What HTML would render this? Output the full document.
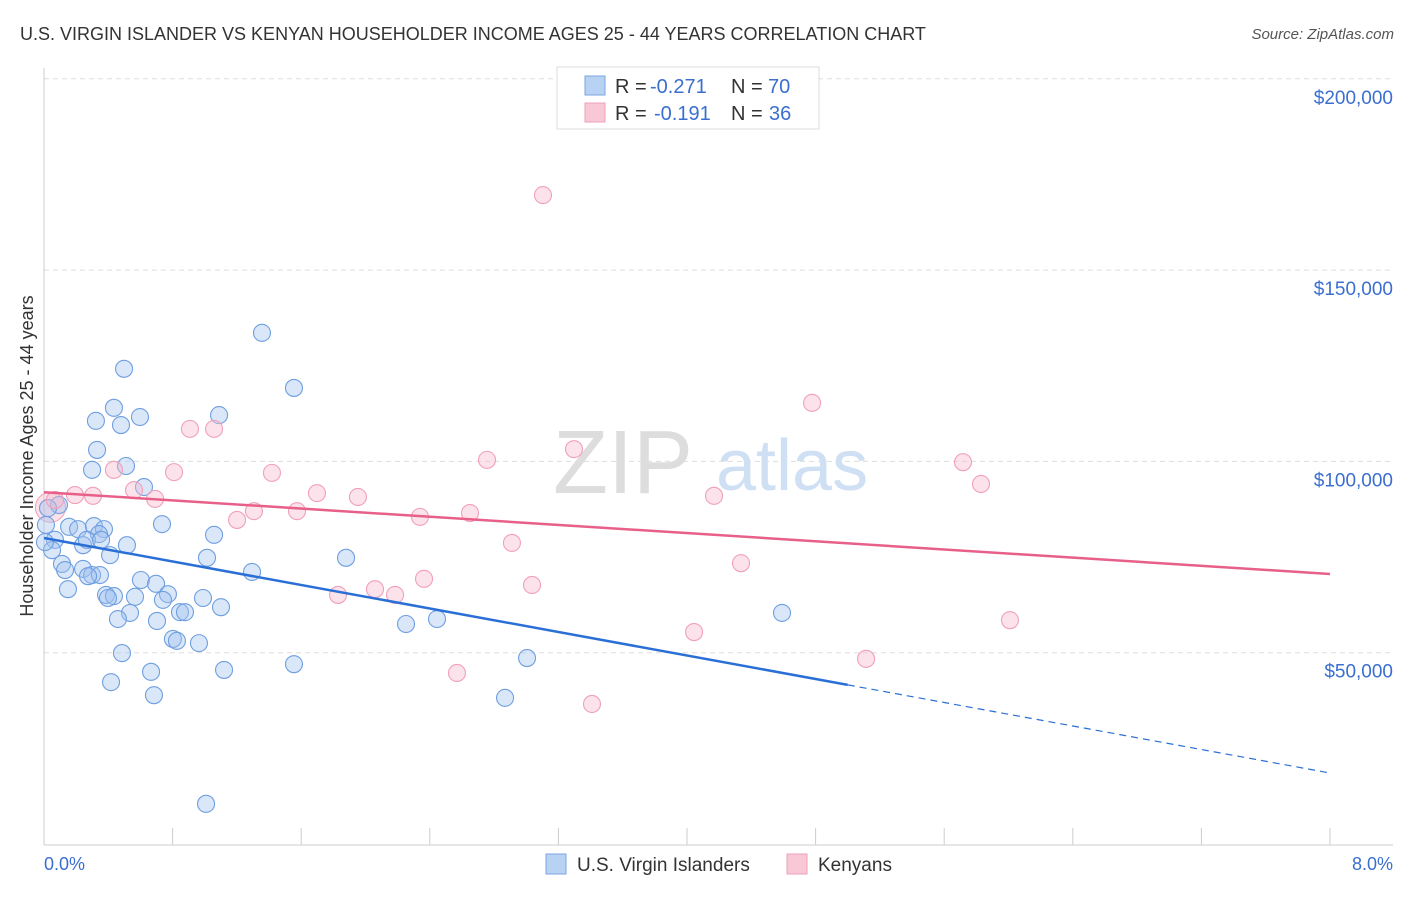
<!DOCTYPE html>
<html><head><meta charset="utf-8"><style>
body{margin:0;background:#fff;font-family:"Liberation Sans",sans-serif}
svg text{font-family:"Liberation Sans",sans-serif}
</style></head><body>
<svg width="1406" height="892" xmlns="http://www.w3.org/2000/svg">
<text x="20" y="40" font-size="18" fill="#333">U.S. VIRGIN ISLANDER VS KENYAN HOUSEHOLDER INCOME AGES 25 - 44 YEARS CORRELATION CHART</text>
<text x="1394" y="39" font-size="15" fill="#555" text-anchor="end" font-style="italic">Source: ZipAtlas.com</text>
<g id="grid"></g>
<line x1="44" y1="68" x2="44" y2="845" stroke="#ccc"/>
<line x1="44" y1="845" x2="1393" y2="845" stroke="#ccc"/>
<g id="xticks"></g>
<g id="ylabels"></g>
<text x="44" y="870" font-size="18" fill="#3a6fd0">0.0%</text>
<text x="1393" y="870" font-size="18" fill="#3a6fd0" text-anchor="end">8.0%</text>
<text transform="translate(33,456) rotate(-90)" font-size="18" fill="#333" text-anchor="middle">Householder Income Ages 25 - 44 years</text>
<g><text x="553" y="493" font-size="90" fill="#ddd" font-family="Liberation Serif,serif">ZIP</text><text x="716" y="490" font-size="72" fill="#cfe0f4">atlas</text></g>
<g id="pts"></g>
<g id="lines"></g>
<g>
<rect x="557" y="67" width="262" height="62" fill="#fff" stroke="#ddd"/>
<rect x="585" y="76" width="20" height="19" fill="#b8d2f4" stroke="#7aa6e0"/>
<rect x="585" y="103" width="20" height="19" fill="#f8c8d6" stroke="#f0a0b8"/>
<text y="93" font-size="20" fill="#333"><tspan x="615">R =</tspan><tspan x="650" fill="#3a6fd0">-0.271</tspan><tspan x="731">N =</tspan><tspan x="768" fill="#3a6fd0">70</tspan></text>
<text y="120" font-size="20" fill="#333"><tspan x="615">R =</tspan><tspan x="654" fill="#3a6fd0">-0.191</tspan><tspan x="731">N =</tspan><tspan x="769" fill="#3a6fd0">36</tspan></text>
</g>
<g>
<rect x="546" y="854" width="20" height="20" fill="#b8d2f4" stroke="#7aa6e0"/>
<text x="577" y="871" font-size="19" fill="#333">U.S. Virgin Islanders</text>
<rect x="787" y="854" width="20" height="20" fill="#f8c8d6" stroke="#f0a0b8"/>
<text x="818" y="871" font-size="19" fill="#333">Kenyans</text>
</g>
</svg>
<script>
const yTicks=[50000,100000,150000,200000];
const yTickLabels=["$50,000","$100,000","$150,000","$200,000"];
const xTicks=[0,0.8,1.6,2.4,3.2,4.0,4.8,5.6,6.4,7.2,8.0];
const blueX=[1.356,0.498,1.555,0.435,0.597,1.089,0.323,0.479,0.330,0.510,0.299,0.622,0.093,0.025,0.734,1.058,0.156,0.212,0.311,0.373,0.342,0.243,0.267,0.355,0.516,0.068,0.050,0.411,1.014,1.879,0.112,0.243,0.299,0.348,0.274,1.294,0.603,0.697,0.771,0.386,0.435,0.398,0.740,1.101,0.989,0.846,0.877,0.535,0.460,0.703,2.252,2.445,4.591,0.802,0.827,0.964,0.485,1.555,3.005,0.666,1.120,0.417,0.684,2.868,1.008,0.149,0.006,0.131,0.566,0.012];
const blueY=[133.6,124.2,119.2,114.0,111.6,112.1,110.6,109.5,103.0,98.8,97.8,93.3,88.6,87.8,83.6,80.8,82.9,82.3,83.1,82.3,81.0,78.1,79.5,79.5,78.1,79.5,76.8,75.5,74.8,74.8,73.2,71.9,70.3,70.3,70.0,71.1,69.0,68.0,65.3,65.1,64.8,64.3,63.8,61.9,64.3,60.6,60.6,60.4,58.8,58.3,57.5,58.8,60.4,53.6,53.1,52.5,49.9,47.0,48.6,45.0,45.5,42.3,38.9,38.2,10.5,66.6,78.9,71.6,64.6,83.4];
const pinkX=[3.104,4.778,0.908,1.058,3.297,2.756,5.717,0.809,0.435,1.418,5.829,0.305,1.698,1.953,0.560,0.691,4.168,1.306,1.574,2.650,1.201,2.339,2.911,4.336,2.364,2.059,2.184,1.829,3.036,4.044,6.009,5.114,2.569,3.409,0.068,0.193];
const pinkY=[169.6,115.3,108.5,108.5,103.2,100.4,99.8,97.2,97.8,97.0,94.1,91.0,91.7,90.7,92.5,90.2,91.0,87.0,87.0,86.5,84.7,85.5,78.7,73.4,69.3,66.6,65.1,65.1,67.7,55.4,58.5,48.4,44.7,36.6,89.9,91.2];
const blueTrend=[79980,18557];
const blueSolidEnd=5.0;
const pinkTrend=[91950,70570];
const NS="http://www.w3.org/2000/svg";
const xs=v=>44+v*160.75, ys=v=>844-v*0.003826;
function mk(t,a,p){const e=document.createElementNS(NS,t);for(const k in a)e.setAttribute(k,a[k]);document.getElementById(p).appendChild(e);return e;}
yTicks.forEach((t,i)=>{
 const l=mk('line',{x1:44,x2:1393,y1:ys(t),y2:ys(t),stroke:'#ddd','stroke-dasharray':'5,4'},'grid');
 
 
 const tx=mk('text',{x:1393,y:ys(t)+25,'font-size':19,fill:'#3a6fd0','text-anchor':'end'},'ylabels');
 tx.textContent=yTickLabels[i];
 
 
});
xTicks.forEach(t=>{
 const l=mk('line',{x1:xs(t),x2:xs(t),y1:828,y2:845,stroke:'#ccc'},'xticks');
 
 
});
const b1=mk('circle',{cx:xs(0.04),cy:ys(88000),r:15,fill:'rgba(248,180,200,0.4)',stroke:'#f0a0b8'},'pts');


blueX.forEach((x,i)=>{
 const c=mk('circle',{cx:xs(x),cy:ys(blueY[i]*1000),r:8.5,fill:'rgba(160,195,240,0.4)',stroke:'#6f9fe0','stroke-width':1.1},'pts');
 
 
});
pinkX.forEach((x,i)=>{
 const c=mk('circle',{cx:xs(x),cy:ys(pinkY[i]*1000),r:8.5,fill:'rgba(248,185,205,0.4)',stroke:'#f0a0b8','stroke-width':1.1},'pts');
 
 
});
const by=x=>blueTrend[0]+(blueTrend[1]-blueTrend[0])*x/8;
const l1=mk('line',{x1:xs(0),y1:ys(by(0)),x2:xs(blueSolidEnd),y2:ys(by(blueSolidEnd)),stroke:'#2a6fd6','stroke-width':2.5},'lines');


const l2=mk('line',{x1:xs(blueSolidEnd),y1:ys(by(blueSolidEnd)),x2:xs(8),y2:ys(by(8)),stroke:'#2a6fd6','stroke-width':1.2,'stroke-dasharray':'7,5'},'lines');


const l3=mk('line',{x1:xs(0),y1:ys(pinkTrend[0]),x2:xs(8),y2:ys(pinkTrend[1]),stroke:'#e8608a','stroke-width':2.5},'lines');


</script>
</body></html>
